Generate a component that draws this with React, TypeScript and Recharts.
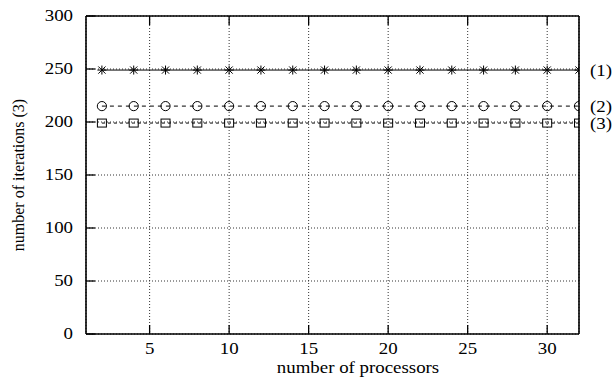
import React from "react";
import {
  ComposedChart,
  Line,
  XAxis,
  YAxis,
  CartesianGrid,
  LabelList,
} from "recharts";

const processors = [2, 4, 6, 8, 10, 12, 14, 16, 18, 20, 22, 24, 26, 28, 30, 32];
const series1 = [249, 249, 249, 249, 249, 249, 249, 249, 249, 249, 249, 249, 249, 249, 249, 249];
const series2 = [215, 215, 215, 215, 215, 215, 215, 215, 215, 215, 215, 215, 215, 215, 215, 215];
const series3 = [199, 199, 199, 199, 199, 199, 199, 199, 199, 199, 199, 199, 199, 199, 199, 199];
const seriesLabels = ["(1)", "(2)", "(3)"];
const xTicks = [5, 10, 15, 20, 25, 30];
const yTicks = [0, 50, 100, 150, 200, 250, 300];
const xLabel = "number of processors";
const yLabel = "number of iterations (3)";

const data = processors.map((p, i) => ({
  x: p,
  s1: series1[i],
  s2: series2[i],
  s3: series3[i],
}));

const FONT = "'Liberation Serif', 'Times New Roman', serif";
const FS = 16;
const SX = 1.18;
const TICK_LEN = 9;

const BottomTick = (props: any) => {
  const { x, y, payload } = props;
  const axisY = y - 15;
  return (
    <g>
      <line x1={x} y1={axisY} x2={x} y2={axisY - TICK_LEN} stroke="#000" strokeWidth={1.3} />
      <g transform={`translate(${x},${y}) scale(${SX},1)`}>
        <text x={0} y={0} textAnchor="middle" dominantBaseline="central" fontFamily={FONT} fontSize={FS} fill="#000">
          {payload.value}
        </text>
      </g>
    </g>
  );
};

const TopTick = (props: any) => {
  const { x, y } = props;
  return <line x1={x} y1={y} x2={x} y2={y + TICK_LEN} stroke="#000" strokeWidth={1.3} />;
};

const LeftTick = (props: any) => {
  const { x, y, payload } = props;
  const axisX = x + 13;
  return (
    <g>
      <line x1={axisX} y1={y} x2={axisX + TICK_LEN} y2={y} stroke="#000" strokeWidth={1.3} />
      <g transform={`translate(${x},${y}) scale(${SX},1)`}>
        <text x={0} y={0} textAnchor="end" dominantBaseline="central" fontFamily={FONT} fontSize={FS} fill="#000">
          {payload.value}
        </text>
      </g>
    </g>
  );
};

const RightTick = (props: any) => {
  const { x, y } = props;
  return <line x1={x} y1={y} x2={x - TICK_LEN} y2={y} stroke="#000" strokeWidth={1.3} />;
};

const StarDot = (props: any) => {
  const { cx, cy } = props;
  if (cx == null || cy == null) return null;
  const r = 4.5;
  const d = 3.6;
  return (
    <g stroke="#000" strokeWidth={1}>
      <line x1={cx - r} y1={cy} x2={cx + r} y2={cy} />
      <line x1={cx} y1={cy - r} x2={cx} y2={cy + r} />
      <line x1={cx - d} y1={cy - d} x2={cx + d} y2={cy + d} />
      <line x1={cx - d} y1={cy + d} x2={cx + d} y2={cy - d} />
    </g>
  );
};

const CircleDot = (props: any) => {
  const { cx, cy } = props;
  if (cx == null || cy == null) return null;
  return <circle cx={cx} cy={cy} r={4.6} fill="none" stroke="#000" strokeWidth={1} />;
};

const SquareDot = (props: any) => {
  const { cx, cy } = props;
  if (cx == null || cy == null) return null;
  return <rect x={cx - 4.5} y={cy - 4} width={9} height={8} fill="none" stroke="#000" strokeWidth={1} />;
};

const endLabel = (text: string) => (props: any) => {
  const { x, y, index } = props;
  if (index !== processors.length - 1) return null;
  return (
    <g transform={`translate(${x + 11},${y}) scale(${SX},1)`}>
      <text x={0} y={0} textAnchor="start" dominantBaseline="central" fontFamily={FONT} fontSize={FS} fill="#000">
        {text}
      </text>
    </g>
  );
};

export default function App() {
  return (
    <div style={{ position: "absolute", left: 0, top: 0, width: 616, height: 385, background: "#fff" }}>
      <ComposedChart width={616} height={385} data={data} margin={{ top: 0, right: 0, bottom: 0, left: 0 }}>
        <CartesianGrid stroke="#333" strokeDasharray="1 2" strokeWidth={1} />
        <XAxis
          dataKey="x"
          type="number"
          domain={[1, 32]}
          ticks={xTicks}
          allowDataOverflow
          height={51}
          tickSize={0}
          tickMargin={15}
          tick={<BottomTick />}
          axisLine={{ stroke: "#000", strokeWidth: 1.6 }}
          tickLine={false}
          interval={0}
          label={(p: any) => (
            <g transform={`translate(358,368) scale(${SX},1)`}>
              <text x={0} y={0} textAnchor="middle" dominantBaseline="central" fontFamily={FONT} fontSize={FS} fill="#000">
                {xLabel}
              </text>
            </g>
          )}
        />
        <XAxis
          xAxisId="top"
          orientation="top"
          dataKey="x"
          type="number"
          domain={[1, 32]}
          ticks={xTicks}
          allowDataOverflow
          height={16}
          tickSize={0}
          tickMargin={0}
          tick={<TopTick />}
          axisLine={{ stroke: "#000", strokeWidth: 1.6 }}
          tickLine={false}
          interval={0}
        />
        <YAxis
          type="number"
          domain={[0, 300]}
          ticks={yTicks}
          width={86}
          tickSize={0}
          tickMargin={13}
          tick={<LeftTick />}
          axisLine={{ stroke: "#000", strokeWidth: 1.6 }}
          tickLine={false}
          interval={0}
          label={(p: any) => (
            <text
              x={18}
              y={175}
              transform="rotate(-90 18 175)"
              textAnchor="middle"
              dominantBaseline="central"
              fontFamily={FONT}
              fontSize={FS}
              fill="#000"
            >
              {yLabel}
            </text>
          )}
        />
        <YAxis
          yAxisId="right"
          orientation="right"
          type="number"
          domain={[0, 300]}
          ticks={yTicks}
          width={37}
          tickSize={0}
          tickMargin={0}
          tick={<RightTick />}
          axisLine={{ stroke: "#000", strokeWidth: 1.6 }}
          tickLine={false}
          interval={0}
        />
        <Line
          type="linear"
          dataKey="s1"
          stroke="#000"
          strokeWidth={1}
          dot={<StarDot />}
          activeDot={false}
          isAnimationActive={false}
        >
          <LabelList dataKey="s1" content={endLabel(seriesLabels[0])} />
        </Line>
        <Line
          type="linear"
          dataKey="s2"
          stroke="#000"
          strokeWidth={1}
          strokeDasharray="4 4"
          dot={<CircleDot />}
          activeDot={false}
          isAnimationActive={false}
        >
          <LabelList dataKey="s2" content={endLabel(seriesLabels[1])} />
        </Line>
        <Line
          type="linear"
          dataKey="s3"
          stroke="#000"
          strokeWidth={1}
          strokeDasharray="3 3"
          dot={<SquareDot />}
          activeDot={false}
          isAnimationActive={false}
        >
          <LabelList dataKey="s3" content={endLabel(seriesLabels[2])} />
        </Line>
      </ComposedChart>
    </div>
  );
}
